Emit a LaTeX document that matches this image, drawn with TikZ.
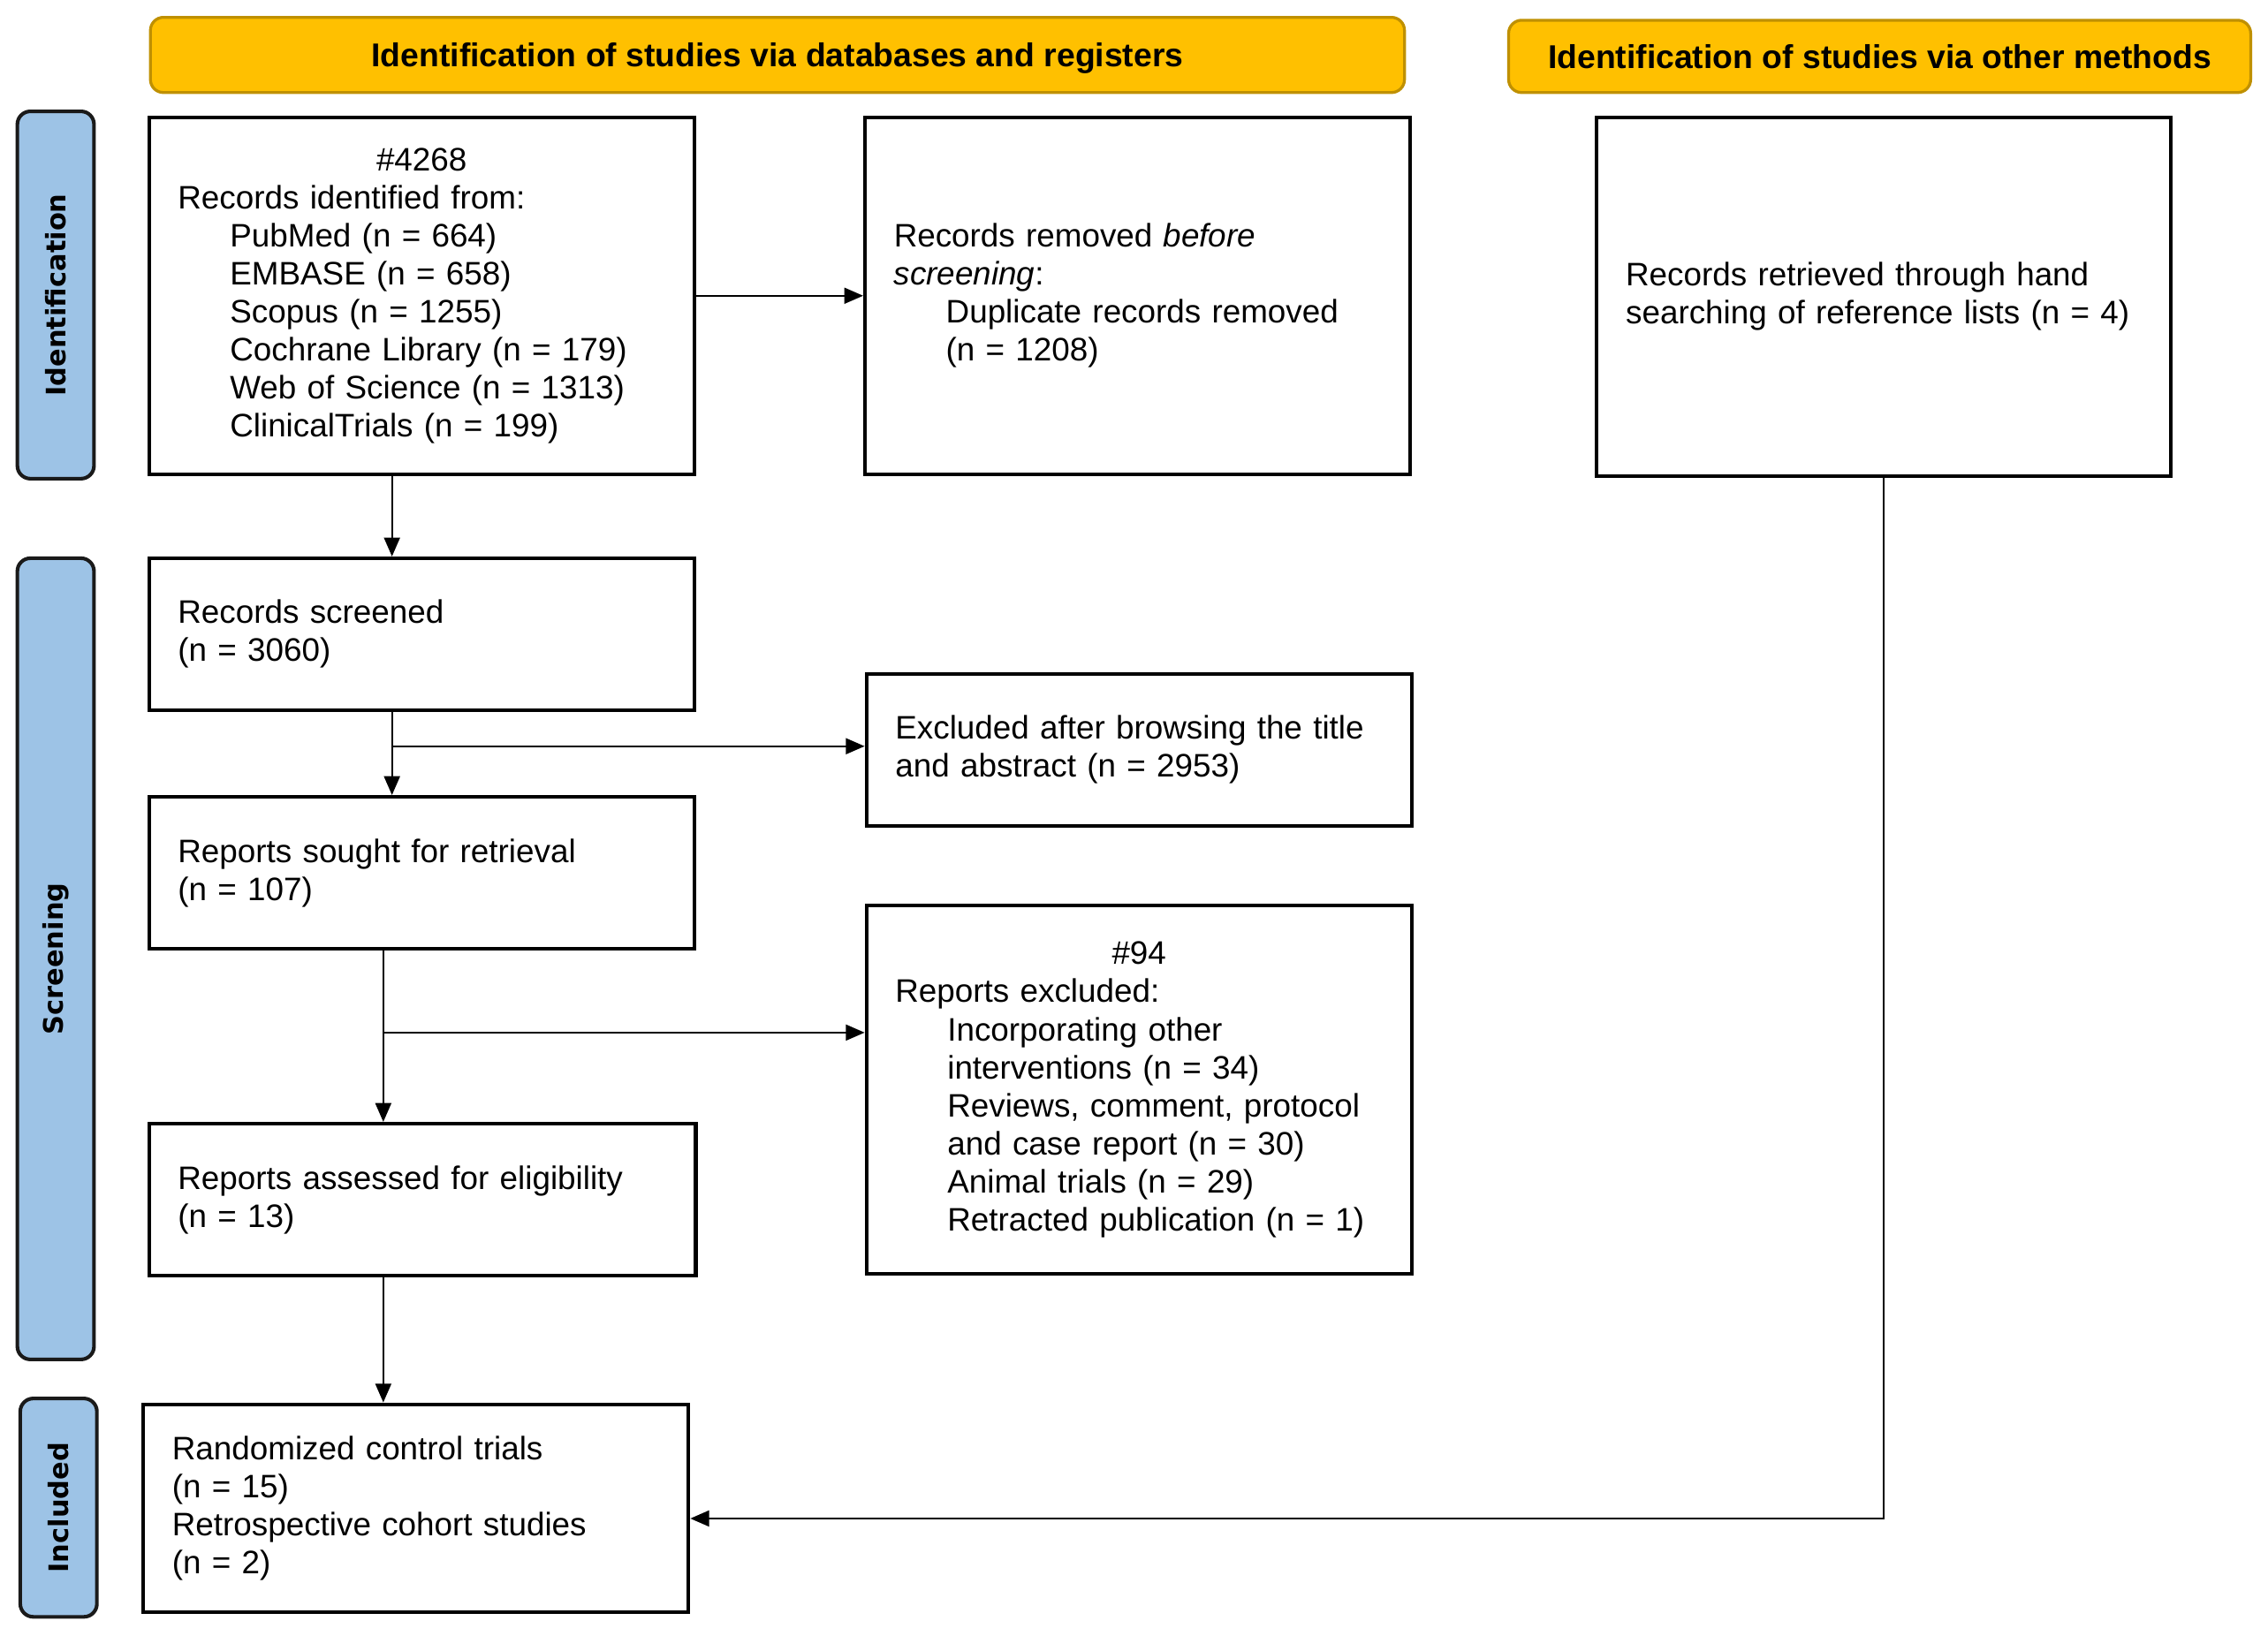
\documentclass[tikz,border=0pt]{standalone}
\usepackage{fontspec}
\setmainfont{Liberation Sans}
\newfontfamily\labfont{DejaVu Sans}
\usetikzlibrary{arrows.meta,positioning}
\definecolor{hdrfill}{HTML}{FFC000}
\definecolor{hdrdraw}{HTML}{BF9000}
\definecolor{sidefill}{HTML}{9DC3E6}
\definecolor{sidedraw}{HTML}{1A1A1A}
\begin{document}
\begin{tikzpicture}[x=1pt,y=-1pt,
  txt/.style={font=\fontsize{22.5}{26.3}\selectfont},
  box/.style={draw=black, line width=2.5pt, fill=white, inner xsep=20pt, inner ysep=0pt, align=left, txt},
  hdr/.style={draw=hdrdraw, fill=hdrfill, line width=2pt, rounded corners=9pt, inner sep=0pt, text height=16.4pt, text depth=0pt, font=\fontsize{22.8}{26}\selectfont\bfseries},
  side/.style={draw=sidedraw, fill=sidefill, line width=2.5pt, rounded corners=9pt, inner sep=0pt, rotate=90, font=\labfont\fontsize{18.6}{20}\selectfont\bfseries},
  arr/.style={line width=1.2pt, -{Triangle[length=13pt,width=11pt]}},
  ln/.style={line width=1.2pt}
]
\useasboundingbox (0,0) rectangle (1568,1131);

% headers
\node[hdr, minimum width=867pt, minimum height=52pt] (h1) at (537.5,38) {Identification of studies via databases and registers};
\node[hdr, minimum width=513pt, minimum height=50pt] (h2) at (1299.5,39) {Identification of studies via other methods};

% side labels
\node[side, minimum width=254pt, minimum height=53pt] (s1) at (38.5,204) {Identification};
\node[side, minimum width=554pt, minimum height=53pt] (s2) at (38.5,663) {Screening};
\node[side, minimum width=151pt, minimum height=53pt] (s3) at (40.5,1042.5) {Included};

% boxes
\node[box, text width=337pt, minimum height=247pt] (A) at (291.5,204.5) {%
\makebox[\linewidth][c]{\#4268}\\
Records identified from:\\
\hspace*{36pt}PubMed (n = 664)\\
\hspace*{36pt}EMBASE (n = 658)\\
\hspace*{36pt}Scopus (n = 1255)\\
\hspace*{36pt}Cochrane Library (n = 179)\\
\hspace*{36pt}Web of Science (n = 1313)\\
\hspace*{36pt}ClinicalTrials (n = 199)};

\node[box, text width=337pt, minimum height=247pt] (B) at (786.5,204.5) {%
Records removed \textit{before}\\
\textit{screening}:\\
\hspace*{36pt}Duplicate records removed\\
\hspace*{36pt}(n = 1208)};

\node[box, text width=357pt, minimum height=248pt] (C) at (1302.5,205) {%
Records retrieved through hand\\
searching of reference lists (n = 4)};

\node[box, text width=337pt, minimum height=105pt] (D) at (291.5,438.5) {%
Records screened\\
(n = 3060)};

\node[box, text width=337pt, minimum height=105pt] (E) at (787.5,518.5) {%
Excluded after browsing the title\\
and abstract (n = 2953)};

\node[box, text width=337pt, minimum height=105pt] (F) at (291.5,603.5) {%
Reports sought for retrieval\\
(n = 107)};

\node[box, text width=337pt, minimum height=255pt] (G) at (787.5,753.5) {%
\makebox[\linewidth][c]{\#94}\\
Reports excluded:\\
\hspace*{36pt}Incorporating other\\
\hspace*{36pt}interventions (n = 34)\\
\hspace*{36pt}Reviews, comment, protocol\\
\hspace*{36pt}and case report (n = 30)\\
\hspace*{36pt}Animal trials (n = 29)\\
\hspace*{36pt}Retracted publication (n = 1)};

\node[box, text width=338pt, minimum height=105pt] (H) at (292,829.5) {%
Reports assessed for eligibility\\
(n = 13)};

\node[box, text width=337pt, minimum height=144pt] (I) at (287.5,1043) {%
Randomized control trials\\
(n = 15)\\
Retrospective cohort studies\\
(n = 2)};

% connectors
\draw[arr] ([xshift=-20.5pt]A.south) -- ([xshift=-20.5pt]D.north);
\draw[arr] (A.east) -- (B.west);
\draw[arr] ([xshift=-20.5pt]D.south) -- ([xshift=-20.5pt]F.north);
\coordinate (j1) at ([xshift=-20.5pt,yshift=2.5pt]D.south |- E.west);
\draw[arr] (j1) -- (j1 -| E.west);
\draw[arr] ([xshift=-26.5pt]F.south) -- ([xshift=-26.5pt]F.south |- H.north);
\coordinate (j2) at ([xshift=-26.5pt]F.south |- 0,714);
\draw[arr] (j2) -- (j2 -| G.west);
\draw[arr] ([xshift=-27pt]H.south) -- ([xshift=-27pt]H.south |- I.north);
\draw[arr] (C.south) |- ([yshift=-7pt]I.east);
\end{tikzpicture}
\end{document}
